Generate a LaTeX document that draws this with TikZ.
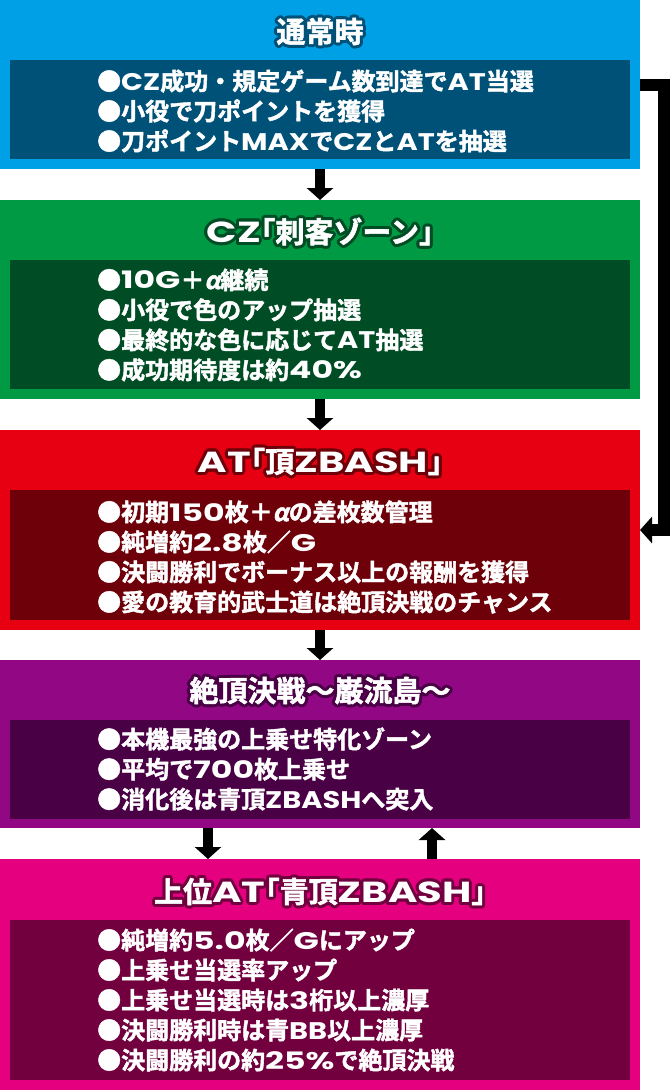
\documentclass[tikz,border=0pt]{standalone}
\usepackage{fontspec}
\usepackage{xcolor}
\usepackage{contour}
\usetikzlibrary{arrows.meta}
\setmainfont{Noto Sans CJK JP Bold}[FakeBold=1.8]
\newfontfamily\latfont{Poppins Bold}[FakeStretch=1.2]
\newfontfamily\widelatfont{Poppins Bold}[FakeStretch=1.38]
\newfontfamily\alphafont{Noto Sans CJK JP Bold}[FakeBold=1.8, FakeSlant=0.2]
\newcommand{\lat}[1]{{\latfont #1}}
\newcommand{\wlat}[1]{{\widelatfont #1}}
\newcommand{\alp}{{\alphafont α}}
\contourlength{3pt}
\definecolor{nblue}{HTML}{00A0E6}
\definecolor{nbluedark}{HTML}{005178}
\definecolor{czgreen}{HTML}{009944}
\definecolor{czgreendark}{HTML}{004D25}
\definecolor{atred}{HTML}{E60012}
\definecolor{atreddark}{HTML}{6E0009}
\definecolor{zkpurple}{HTML}{920783}
\definecolor{zkpurpledark}{HTML}{4A0045}
\definecolor{uapink}{HTML}{E4007F}
\definecolor{uapinkdark}{HTML}{72003F}

\begin{document}
\begin{tikzpicture}[x=1pt, y=-1pt,
		outerbox/.style={minimum width=640pt, inner sep=0pt, outer sep=0pt},
		innerbox/.style={minimum width=620pt, inner sep=0pt, outer sep=0pt},
		title/.style={text=white, font=\fontsize{29}{33}\selectfont, inner sep=0pt},
		body/.style={text=white, font=\fontsize{24}{30}\selectfont, align=left, inner sep=0pt, anchor=west},
		flow/.style={line width=10pt, -{Triangle[length=12pt,width=26pt]}}]
		\useasboundingbox (0,0) rectangle (670,1090);
		% normal
		\node[outerbox, fill=nblue, minimum height=169pt] (normal) at (320,84.5) {};
		\node[innerbox, fill=nbluedark, minimum height=99pt] (normalin) at (320,109.5) {};
		\node[title] (normaltitle) at (320,33) {\contour{nbluedark}{通常時}};
		\node[body] (normaltext) at (97,111) {●\lat{CZ}成功・規定ゲーム数到達で\lat{AT}当選\\●小役で刀ポイントを獲得\\●刀ポイント\lat{MAX}で\lat{CZ}と\lat{AT}を抽選};
		% cz
		\node[outerbox, fill=czgreen, minimum height=199pt] (cz) at (320,299.5) {};
		\node[innerbox, fill=czgreendark, minimum height=129pt] (czin) at (320,324.5) {};
		\node[title] (cztitle) at (320,233) {\contour{czgreendark}{\wlat{CZ}｢刺客ゾーン｣}};
		\node[body] (cztext) at (97,325) {●\wlat{10G}＋\alp 継続\\●小役で色のアップ抽選\\●最終的な色に応じて\lat{AT}抽選\\●成功期待度は約\wlat{40\%}};
		% at
		\node[outerbox, fill=atred, minimum height=200pt] (at) at (320,530) {};
		\node[innerbox, fill=atreddark, minimum height=130pt] (atin) at (320,555) {};
		\node[title] (attitle) at (320,463) {\contour{atreddark}{\wlat{AT}｢頂\wlat{ZBASH}｣}};
		\node[body] (attext) at (97,557) {●初期\wlat{150}枚＋\alp の差枚数管理\\●純増約\wlat{2.8}枚／\wlat{G}\\●決闘勝利でボーナス以上の報酬を獲得\\●愛の教育的武士道は絶頂決戦のチャンス};
		% zekko
		\node[outerbox, fill=zkpurple, minimum height=168pt] (zekko) at (320,744) {};
		\node[innerbox, fill=zkpurpledark, minimum height=99pt] (zekkoin) at (320,769.5) {};
		\node[title] (zekkotitle) at (320,692) {\contour{zkpurpledark}{絶頂決戦～巌流島～}};
		\node[body] (zekkotext) at (97,769) {●本機最強の上乗せ特化ゾーン\\●平均で\wlat{700}枚上乗せ\\●消化後は青頂\lat{ZBASH}へ突入};
		% upper at
		\node[outerbox, fill=uapink, minimum height=231pt] (uat) at (320,974.5) {};
		\node[innerbox, fill=uapinkdark, minimum height=160pt] (uatin) at (320,1000) {};
		\node[title] (uattitle) at (320,893) {\contour{uapinkdark}{上位\wlat{AT}｢青頂\wlat{ZBASH}｣}};
		\node[body] (uattext) at (97,1000) {●純増約\wlat{5.0}枚／\wlat{G}にアップ\\●上乗せ当選率アップ\\●上乗せ当選時は\wlat{3}桁以上濃厚\\●決闘勝利時は青\lat{BB}以上濃厚\\●決闘勝利の約\wlat{25\%}で絶頂決戦};
		% arrows
		\draw[flow] (normal.south) -- (cz.north);
		\draw[flow] (cz.south) -- (at.north);
		\draw[flow] (at.south) -- (zekko.north);
		\draw[flow] ([xshift=-112pt]zekko.south) -- ([xshift=-112pt]uat.north);
		\draw[flow] ([xshift=112pt]uat.north) -- ([xshift=112pt]zekko.south);
		\draw[flow, line width=12pt, line join=miter] (normal.east) -- ++(24,0) |- (at.east);
	\end{tikzpicture}
\end{document}
